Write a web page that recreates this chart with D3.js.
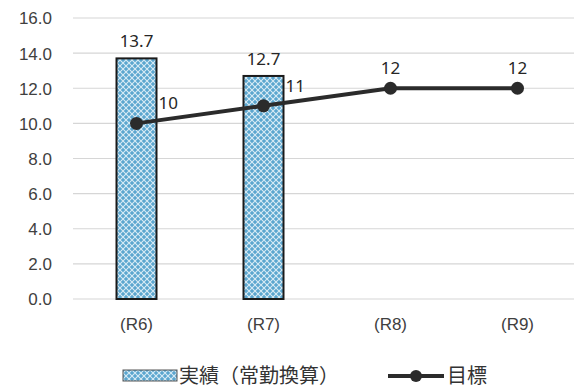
<!DOCTYPE html>
<html><head><meta charset="utf-8">
<script src="https://cdn.jsdelivr.net/npm/d3@7"></script>
<style>
html,body{margin:0;padding:0;background:#fff;}
svg{display:block;font-family:"Noto Sans","Noto Sans CJK JP",sans-serif;}
</style></head>
<body>
<svg id="chart" width="574" height="388"></svg>
<script>
const categories = ["(R6)", "(R7)", "(R8)", "(R9)"];
const actual = [13.7, 12.7, null, null];
const target = [10, 11, 12, 12];
const yTicks = [0, 2, 4, 6, 8, 10, 12, 14, 16];

const svg = d3.select("#chart");
const W = 574, H = 388;
const m = {left: 73, right: -7, top: 18, bottom: 89};

const x = d3.scaleBand().domain(categories).range([m.left, W - m.right]);
const y = d3.scaleLinear().domain([0, 16]).range([H - m.bottom, m.top]);

// hatch pattern for the bars
const defs = svg.append("defs");
const pat = defs.append("pattern").attr("id", "hatch")
  .attr("patternUnits", "userSpaceOnUse").attr("width", 6).attr("height", 6);
pat.append("rect").attr("width", 6).attr("height", 6).attr("fill", "#5ba6cf");
pat.append("path").attr("d", "M0,0L6,6M6,0L0,6")
  .attr("stroke", "#d8ebf5").attr("stroke-width", 1.1);

// grid
svg.append("g").selectAll("line").data(yTicks).join("line")
  .attr("x1", m.left).attr("x2", W)
  .attr("y1", d => y(d)).attr("y2", d => y(d))
  .attr("stroke", "#d6d6d6").attr("stroke-width", 1.2);

// y axis labels
const yAxis = d3.axisLeft(y).tickValues(yTicks).tickFormat(d3.format(".1f")).tickSize(0).tickPadding(0);
const ya = svg.append("g").attr("transform", `translate(52,0)`).call(yAxis);
ya.select(".domain").remove();
ya.selectAll("text").attr("font-size", 17).attr("fill", "#404040").attr("dy", "0.35em");

// x axis labels
const xAxis = d3.axisBottom(x).tickSize(0).tickPadding(0);
const xa = svg.append("g").attr("transform", `translate(0,${y(0) + 19})`).call(xAxis);
xa.select(".domain").remove();
xa.selectAll("text").attr("font-size", 17).attr("fill", "#404040").attr("dy", "0.71em");

// bars
const barW = 40;
const barData = categories.map((c, i) => ({c, v: actual[i]})).filter(d => d.v != null);
svg.append("g").selectAll("rect").data(barData).join("rect")
  .attr("x", d => x(d.c) + x.bandwidth() / 2 - barW / 2)
  .attr("y", d => y(d.v))
  .attr("width", barW)
  .attr("height", d => y(0) - y(d.v))
  .attr("fill", "url(#hatch)")
  .attr("stroke", "#1a1a1a").attr("stroke-width", 2);

svg.append("g").selectAll("text").data(barData).join("text")
  .attr("x", d => x(d.c) + x.bandwidth() / 2)
  .attr("y", d => y(d.v) - 11)
  .attr("text-anchor", "middle").attr("font-size", 17).attr("fill", "#262626")
  .text(d => d.v.toFixed(1));

// target line
const pts = categories.map((c, i) => ({c, v: target[i], i}));
const cx = d => x(d.c) + x.bandwidth() / 2;
svg.append("path").datum(pts)
  .attr("d", d3.line().x(cx).y(d => y(d.v)))
  .attr("fill", "none").attr("stroke", "#2b2b2b").attr("stroke-width", 4);
svg.append("g").selectAll("circle").data(pts).join("circle")
  .attr("cx", cx).attr("cy", d => y(d.v)).attr("r", 6.5).attr("fill", "#2b2b2b");

// target labels: right of the point where a bar is present, above otherwise
svg.append("g").selectAll("text").data(pts).join("text")
  .attr("x", d => actual[d.i] != null ? cx(d) + 22 : cx(d))
  .attr("y", d => y(d.v) - 14)
  .attr("text-anchor", d => actual[d.i] != null ? "start" : "middle")
  .attr("font-size", 17).attr("fill", "#262626")
  .text(d => d.v);

// legend
const lg = svg.append("g").attr("transform", "translate(0,376)");
lg.append("rect").attr("x", 123).attr("y", -6).attr("width", 54).attr("height", 11)
  .attr("fill", "url(#hatch)").attr("stroke", "#555").attr("stroke-width", 1);
lg.append("text").attr("x", 179).attr("y", 0).attr("dy", "0.35em")
  .attr("font-size", 20).attr("fill", "#333").text("実績（常勤換算）");
lg.append("line").attr("x1", 388).attr("x2", 444).attr("y1", 0).attr("y2", 0)
  .attr("stroke", "#2b2b2b").attr("stroke-width", 4);
lg.append("circle").attr("cx", 416).attr("cy", 0).attr("r", 6).attr("fill", "#2b2b2b");
lg.append("text").attr("x", 447).attr("y", 0).attr("dy", "0.35em")
  .attr("font-size", 20).attr("fill", "#333").text("目標");
</script>
</body></html>
